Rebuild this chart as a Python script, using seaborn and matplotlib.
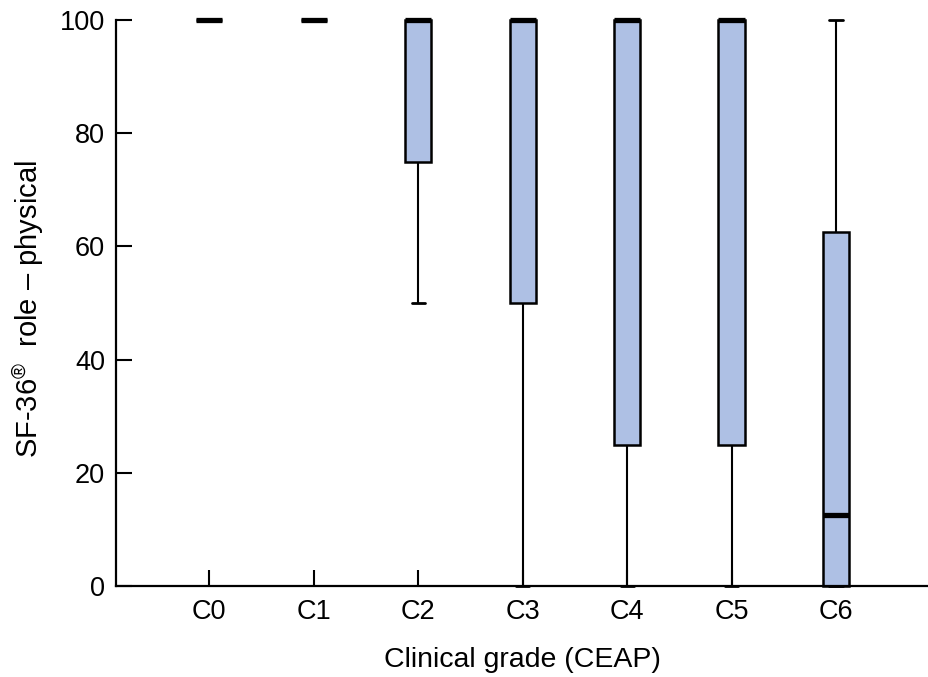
import numpy as np
import pandas as pd
import matplotlib
matplotlib.use("Agg")
import matplotlib.pyplot as plt
import seaborn as sns

# Categories and five-number summaries
categories = ["C0", "C1", "C2", "C3", "C4", "C5", "C6"]
whisker_low = [100, 100, 50, 0, 0, 0, 0]
q1 = [100, 100, 75, 50, 25, 25, 0]
median = [100, 100, 100, 100, 100, 100, 12.5]
q3 = [100, 100, 100, 100, 100, 100, 62.5]
whisker_high = [100, 100, 100, 100, 100, 100, 100]
y_ticks = [0, 20, 40, 60, 80, 100]

rows = []
for i, cat in enumerate(categories):
    for v in (whisker_low[i], q1[i], median[i], q3[i], whisker_high[i]):
        rows.append({"grade": cat, "score": v})
df = pd.DataFrame(rows)

sns.set_theme(style="ticks")
plt.rcParams["font.family"] = ["Liberation Sans", "DejaVu Sans"]
plt.rcParams["mathtext.fontset"] = "custom"
plt.rcParams["mathtext.rm"] = "Liberation Sans"
plt.rcParams["mathtext.it"] = "Liberation Sans"

fig = plt.figure(figsize=(9.29, 6.77), dpi=100)
ax = fig.add_axes([0.125, 0.1344, 0.875, 0.8360])

sns.boxplot(
    data=df, x="grade", y="score", order=categories, ax=ax,
    width=0.25, whis=(0, 100), color="#aec0e4", saturation=1,
    linecolor="black", linewidth=1.8, showfliers=False,
    medianprops=dict(color="black", linewidth=3.8, solid_capstyle="butt"),
    whiskerprops=dict(color="black", linewidth=1.5),
    capprops=dict(color="black", linewidth=2.0),
    boxprops=dict(edgecolor="black", linewidth=1.8),
)

for art in list(ax.lines) + list(ax.patches):
    art.set_clip_on(False)

ax.set_xlim(-0.89, 6.89)
ax.set_ylim(0, 100)
ax.set_yticks(y_ticks)
ax.set_yticklabels([str(t) for t in y_ticks])

for side in ("top", "right"):
    ax.spines[side].set_visible(False)
for side in ("left", "bottom"):
    ax.spines[side].set_linewidth(1.6)
    ax.spines[side].set_color("black")

ax.tick_params(axis="both", direction="in", length=11.5, width=1.5,
               colors="black", labelsize=19.5)
ax.tick_params(axis="y", pad=8)
ax.tick_params(axis="x", pad=9)

ax.set_xlabel("Clinical grade (CEAP)", fontsize=20.5, labelpad=16, color="black")
ax.set_ylabel(r"SF-36$^{\mathrm{®}}$  role – physical", fontsize=21,
              color="black")
ax.yaxis.set_label_coords(-0.086, 0.49)

fig.savefig("out.png", dpi=100, facecolor="white")
